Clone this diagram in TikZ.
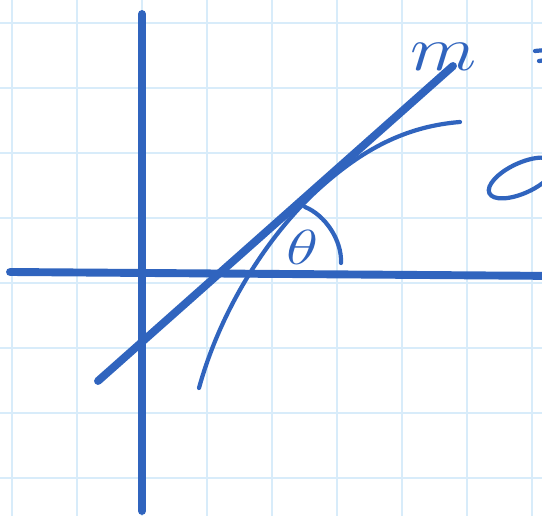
\RequirePackage{fix-cm}
\documentclass[tikz,border=0pt]{standalone}
\usepackage{amsmath}
\usepackage{graphicx}
\usepackage{tikz}
\usetikzlibrary{calc}
\definecolor{penblue}{RGB}{48,100,190}
\definecolor{gridblue}{RGB}{216,236,250}

\begin{document}
\begin{tikzpicture}[x=0.02cm,y=-0.02cm,
    gridline/.style={gridblue,line width=1.1pt},
    thickpen/.style={penblue,line width=4.5pt,line cap=round},
    thinpen/.style={penblue,line width=2.4pt,line cap=round}]
    \useasboundingbox(0,0)rectangle(542,516);
    \clip(0,0)rectangle(542,516);
    \fill[white](0,0)rectangle(542,516);
    % Grid
    \foreach \gx in {12,77,...,532}
      \draw[gridline](\gx,0)--(\gx,516);
    \foreach \gy in {23,88,...,478}
      \draw[gridline](0,\gy)--(542,\gy);
    % Axes
    \coordinate(xleft)at(10,272);
    \coordinate(xright)at(560,276);
    \coordinate(ytop)at(142,14);
    \coordinate(ybottom)at(142,511);
    \draw[thickpen](xleft)--(xright);
    \draw[thickpen](ytop)--(ybottom);
    % Tangent line m
    \coordinate(mlow)at(98,381);
    \coordinate(mhigh)at(453,66);
    \draw[thickpen](mlow)--(mhigh);
    \node[text=penblue,font=\fontsize{40}{40}\selectfont](mlabel)at(444,57)
         {\scalebox{1.1}[0.9]{$m$}};
    % Curve
    \coordinate(clow)at(199,388);
    \coordinate(ctouch)at(322,186);
    \coordinate(chigh)at(460,122);
    \draw[thinpen](clow)..controls(222,305)and(272,230)..(ctouch)
                        ..controls(367,146)and(410,126)..(chigh);
    % Angle theta
    \coordinate(astart)at(305,207);
    \coordinate(aend)at(341,263);
    \draw[thinpen](astart)..controls(325,215)and(342,240)..(aend);
    \node[text=penblue,font=\fontsize{28}{28}\selectfont](theta)at(303,247)
         {\scalebox{1.35}[1]{$\theta$}};
    % Cut-off marks at the right edge
    \draw[thinpen](535,51)--(546,50);
    \draw[thinpen](539,61)--(546,60);
    \draw[thinpen](522,178)ellipse[x radius=0.72cm,y radius=0.3cm,rotate=25];
  \end{tikzpicture}
\end{document}
